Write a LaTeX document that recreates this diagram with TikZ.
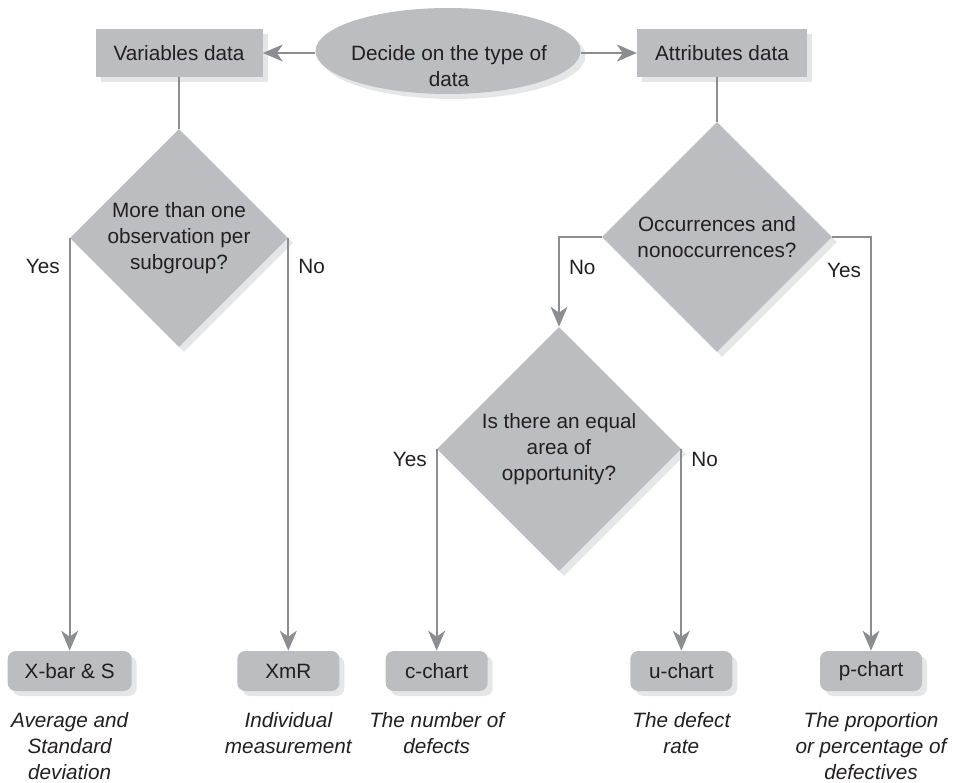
\documentclass[tikz,border=0pt]{standalone}
\usepackage{fontspec}
\setmainfont{Liberation Sans}
\usetikzlibrary{positioning}
\usetikzlibrary{shapes.geometric, shadows, arrows.meta}

\definecolor{boxgray}{RGB}{188,189,192}
\definecolor{shadegray}{RGB}{229,230,231}
\definecolor{linegray}{RGB}{140,141,145}
\definecolor{textgray}{RGB}{35,31,32}

\tikzset{
  every picture/.style={/utils/exec={\fontsize{11.8pt}{14.7pt}\selectfont}},
  softshadow/.style={drop shadow={shadow xshift=0.1cm, shadow yshift=-0.1cm, fill=shadegray, opacity=1}},
  databox/.style={softshadow, fill=boxgray, minimum height=0.96cm, inner xsep=0.36cm, text=textgray},
  chartbox/.style={softshadow, fill=boxgray, rounded corners=0.16cm, minimum height=0.8cm, minimum width=2.04cm, inner xsep=0.34cm, text=textgray},
  question/.style={softshadow, diamond, aspect=1, fill=boxgray, inner sep=0pt, align=center, text=textgray},
  meaning/.style={align=center, font=\itshape, text=textgray},
  link/.style={draw=linegray, line width=0.04cm},
  flow/.style={link, -{Stealth[length=0.4cm, width=0.34cm, inset=0.12cm]}},
  answer/.style={text=textgray, inner sep=0.18cm}
}

\begin{document}
\begin{tikzpicture}[x=0.02cm, y=-0.02cm]
  \useasboundingbox (0,0) rectangle (955,782);

  % start
  \node[softshadow, ellipse, fill=boxgray, minimum width=5.3cm, minimum height=1.72cm] (decide) at (448,51) {};
  \node[align=center, text=textgray] (decidetext) at (449,66) {Decide on the type of\\data};

  \node[databox] (vardata) at (179,53) {Variables data};
  \node[databox] (attdata) at (722,53) {Attributes data};

  % questions
  \node[question, minimum size=4.36cm] (subgroup) at (179,238) {More than one\\observation per\\subgroup?};
  \node[question, minimum size=4.6cm] (occur) at (717,237) {Occurrences and\\nonoccurrences?};
  \node[question, minimum size=4.88cm] (area) at (559,449) {Is there an equal\\area of\\opportunity?};

  % charts
  \node[chartbox] (xbar) at (subgroup.west |- 0,671) {X-bar \& S};
  \node[chartbox] (xmr) at (subgroup.east |- 0,671) {XmR};
  \node[chartbox] (cchart) at (area.west |- 0,671) {c-chart};
  \node[chartbox] (uchart) at (area.east |- 0,671) {u-chart};
  \node[chartbox] (pchart) at (871,671) {p-chart};

  \node[meaning, below=0.28cm of xbar] (xbartext) {Average and\\Standard\\deviation};
  \node[meaning, below=0.28cm of xmr] (xmrtext) {Individual\\measurement};
  \node[meaning, below=0.28cm of cchart] (cchartext) {The number of\\defects};
  \node[meaning, below=0.28cm of uchart] (uchartext) {The defect\\rate};
  \node[meaning, below=0.28cm of pchart] (pchartext) {The proportion\\or percentage of\\defectives};

  % connectors
  \draw[flow] (decide.west |- vardata.east) -- (vardata.east);
  \draw[flow] (decide.east |- attdata.west) -- (attdata.west);

  \draw[link] (vardata.south) -- (subgroup.north);
  \draw[link] (attdata.south -| occur.north) -- (occur.north);

  \draw[flow] (subgroup.west) -- node[answer, pos=0.07, left] {Yes} (xbar.north);
  \draw[flow] (subgroup.east) -- node[answer, pos=0.07, right] {No} (xmr.north);

  \draw[flow] (occur.west) -| node[answer, pos=0.67, right] {No} (area.north);
  \draw[flow] (occur.east) -| node[answer, pos=0.54, left] {Yes} (pchart.north);

  \draw[flow] (area.west) -- node[answer, pos=0.05, left] {Yes} (cchart.north);
  \draw[flow] (area.east) -- node[answer, pos=0.05, right] {No} (uchart.north);

\end{tikzpicture}
\end{document}
